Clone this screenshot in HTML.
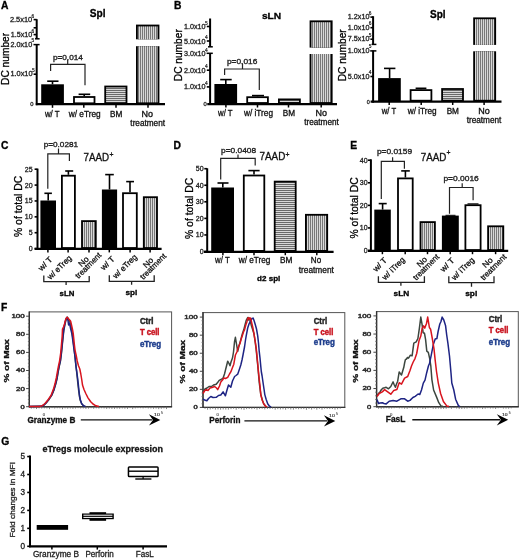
<!DOCTYPE html>
<html><head><meta charset="utf-8"><title>Figure</title>
<style>html,body{margin:0;padding:0;background:#fff;width:520px;height:560px;overflow:hidden}svg{display:block;font-family:"Liberation Sans",sans-serif;filter:blur(0.35px)}</style>
</head><body>
<svg width="520" height="560" viewBox="0 0 520 560" font-family="Liberation Sans, sans-serif">
<defs><pattern id="ph" width="4" height="2" patternUnits="userSpaceOnUse"><rect width="4" height="2" fill="#d8d8d8"/><rect width="4" height="1" fill="#6a6a6a"/></pattern><pattern id="pv" width="2" height="4" patternUnits="userSpaceOnUse"><rect width="2" height="4" fill="#d8d8d8"/><rect width="1" height="4" fill="#787878"/></pattern></defs>
<rect width="520" height="560" fill="#fff"/>
<text x="1" y="8.8" font-size="10.3" font-weight="bold" stroke="#000" stroke-width="0.3">A</text>
<text x="174" y="9" font-size="10.3" font-weight="bold" stroke="#000" stroke-width="0.3">B</text>
<text x="1" y="149" font-size="10.3" font-weight="bold" stroke="#000" stroke-width="0.3">C</text>
<text x="173.6" y="149" font-size="10.3" font-weight="bold" stroke="#000" stroke-width="0.3">D</text>
<text x="350.2" y="149" font-size="10.3" font-weight="bold" stroke="#000" stroke-width="0.3">E</text>
<text x="1" y="310.6" font-size="10.3" font-weight="bold" stroke="#000" stroke-width="0.3">F</text>
<text x="1.2" y="444.8" font-size="10.3" font-weight="bold" stroke="#000" stroke-width="0.3">G</text>
<text x="89.8" y="16.7" font-size="10.2" font-weight="bold" textLength="15.8" lengthAdjust="spacingAndGlyphs" stroke="#000" stroke-width="0.3">Spl</text>
<text transform="translate(9,84.9) rotate(-90)" font-size="10.2" textLength="52" lengthAdjust="spacingAndGlyphs" stroke="#000" stroke-width="0.3">DC number</text>
<line x1="36.7" y1="19.2" x2="36.7" y2="38.8" stroke="#000" stroke-width="2"/>
<line x1="36.7" y1="44.3" x2="36.7" y2="105.2" stroke="#000" stroke-width="2"/>
<line x1="33.6" y1="19.6" x2="36.7" y2="19.6" stroke="#000" stroke-width="1.6"/>
<line x1="33.6" y1="27.8" x2="36.7" y2="27.8" stroke="#000" stroke-width="1.6"/>
<line x1="33.6" y1="34.6" x2="36.7" y2="34.6" stroke="#000" stroke-width="1.6"/>
<line x1="33.6" y1="74.2" x2="36.7" y2="74.2" stroke="#000" stroke-width="1.6"/>
<line x1="35" y1="38.8" x2="39.6" y2="38.8" stroke="#000" stroke-width="1.5"/>
<line x1="33.5" y1="44.6" x2="39.6" y2="44.6" stroke="#000" stroke-width="1.5"/>
<text x="32.2" y="22.2" font-size="7" text-anchor="end" fill="#222" textLength="22.3" lengthAdjust="spacingAndGlyphs" stroke="#222" stroke-width="0.3">2.5x10</text>
<text x="31.6" y="17.8" font-size="4.8" fill="#222" stroke="#222" stroke-width="0.2">6</text>
<text x="32.2" y="37.3" font-size="7" text-anchor="end" fill="#222" textLength="21.5" lengthAdjust="spacingAndGlyphs" stroke="#222" stroke-width="0.3">1.5x10</text>
<text x="31.6" y="32.9" font-size="4.8" fill="#222" stroke="#222" stroke-width="0.2">6</text>
<text x="32.2" y="46.5" font-size="7" text-anchor="end" fill="#222" textLength="21.8" lengthAdjust="spacingAndGlyphs" stroke="#222" stroke-width="0.3">2.0x10</text>
<text x="31.6" y="42.1" font-size="4.8" fill="#222" stroke="#222" stroke-width="0.2">5</text>
<text x="32.6" y="76.4" font-size="7" text-anchor="end" fill="#222" textLength="22.2" lengthAdjust="spacingAndGlyphs" stroke="#222" stroke-width="0.3">1.0x10</text>
<text x="32" y="72" font-size="4.8" fill="#222" stroke="#222" stroke-width="0.2">5</text>
<text x="33.6" y="106.3" font-size="5.8" text-anchor="end" fill="#222" stroke="#222" stroke-width="0.3">0</text>
<line x1="35.8" y1="104.2" x2="165" y2="104.2" stroke="#000" stroke-width="2.3"/>
<rect x="41.2" y="84.3" width="22.7" height="19.9" fill="#000"/>
<line x1="52.5" y1="81.2" x2="52.5" y2="84.3" stroke="#000" stroke-width="1.6"/>
<line x1="47.2" y1="81.2" x2="58.5" y2="81.2" stroke="#000" stroke-width="1.6"/>
<rect x="73.1" y="96.1" width="22.3" height="8.1" fill="#000"/>
<rect x="74.9" y="97.9" width="18.7" height="4.5" fill="#fff"/>
<line x1="84.2" y1="94.3" x2="84.2" y2="96.1" stroke="#000" stroke-width="1.6"/>
<line x1="78.6" y1="94.3" x2="90.2" y2="94.3" stroke="#000" stroke-width="1.6"/>
<rect x="104.3" y="85.6" width="23.1" height="18.6" fill="#000"/>
<rect x="106.1" y="87.4" width="19.5" height="15" fill="url(#ph)"/>
<rect x="136" y="24.6" width="23.4" height="14.7" fill="#000"/>
<rect x="137.8" y="26.4" width="19.8" height="12.9" fill="url(#pv)"/>
<rect x="136" y="46.2" width="23.4" height="58" fill="#000"/>
<rect x="137.8" y="46.2" width="19.8" height="56.2" fill="url(#pv)"/>
<line x1="52.5" y1="104.2" x2="52.5" y2="107.8" stroke="#000" stroke-width="1.5"/>
<line x1="83.8" y1="104.2" x2="83.8" y2="107.8" stroke="#000" stroke-width="1.5"/>
<line x1="116" y1="104.2" x2="116" y2="107.8" stroke="#000" stroke-width="1.5"/>
<line x1="148" y1="104.2" x2="148" y2="107.8" stroke="#000" stroke-width="1.5"/>
<path d="M50.6 71.1V64.4H85V85.2M67.7 64.4V59.8" fill="none" stroke="#222" stroke-width="1.2"/>
<text x="52.9" y="59.8" font-size="6.8" fill="#222" textLength="30" lengthAdjust="spacingAndGlyphs" stroke="#222" stroke-width="0.3">p=0.014</text>
<text x="52.3" y="116.6" font-size="8.2" text-anchor="middle" fill="#111" textLength="14.7" lengthAdjust="spacingAndGlyphs" stroke="#111" stroke-width="0.3">w/ T</text>
<text x="84.7" y="116.6" font-size="8.2" text-anchor="middle" fill="#111" textLength="31.9" lengthAdjust="spacingAndGlyphs" stroke="#111" stroke-width="0.3">w/ eTreg</text>
<text x="116.2" y="116.6" font-size="8.2" text-anchor="middle" fill="#111" textLength="12.3" lengthAdjust="spacingAndGlyphs" stroke="#111" stroke-width="0.3">BM</text>
<text x="147.3" y="116.6" font-size="8.2" text-anchor="middle" fill="#111" textLength="11.5" lengthAdjust="spacingAndGlyphs" stroke="#111" stroke-width="0.3">No</text>
<text x="147.7" y="126.4" font-size="8.2" text-anchor="middle" fill="#111" textLength="34.7" lengthAdjust="spacingAndGlyphs" stroke="#111" stroke-width="0.3">treatment</text>
<text x="261.9" y="18.8" font-size="9.9" font-weight="bold" textLength="19.3" lengthAdjust="spacingAndGlyphs" stroke="#000" stroke-width="0.3">sLN</text>
<text transform="translate(182,81.2) rotate(-90)" font-size="10.2" textLength="52" lengthAdjust="spacingAndGlyphs" stroke="#000" stroke-width="0.3">DC number</text>
<line x1="210.1" y1="18.5" x2="210.1" y2="46.8" stroke="#000" stroke-width="2"/>
<line x1="210.1" y1="53" x2="210.1" y2="104.8" stroke="#000" stroke-width="2"/>
<line x1="206.8" y1="26.5" x2="210.1" y2="26.5" stroke="#000" stroke-width="1.6"/>
<line x1="206.8" y1="41" x2="210.1" y2="41" stroke="#000" stroke-width="1.6"/>
<line x1="206.8" y1="70.2" x2="210.1" y2="70.2" stroke="#000" stroke-width="1.6"/>
<line x1="206.8" y1="86.9" x2="210.1" y2="86.9" stroke="#000" stroke-width="1.6"/>
<line x1="208" y1="46.8" x2="212.8" y2="46.8" stroke="#000" stroke-width="1.5"/>
<line x1="206.6" y1="53.3" x2="212.8" y2="53.3" stroke="#000" stroke-width="1.5"/>
<text x="205.6" y="29" font-size="7" text-anchor="end" fill="#222" textLength="21.6" lengthAdjust="spacingAndGlyphs" stroke="#222" stroke-width="0.3">1.0x10</text>
<text x="205" y="24.6" font-size="4.8" fill="#222" stroke="#222" stroke-width="0.2">5</text>
<text x="205.6" y="43.6" font-size="7" text-anchor="end" fill="#222" textLength="21.6" lengthAdjust="spacingAndGlyphs" stroke="#222" stroke-width="0.3">5.0x10</text>
<text x="205" y="39.2" font-size="4.8" fill="#222" stroke="#222" stroke-width="0.2">4</text>
<text x="205.6" y="56" font-size="7" text-anchor="end" fill="#222" textLength="21.6" lengthAdjust="spacingAndGlyphs" stroke="#222" stroke-width="0.3">3.0x10</text>
<text x="205" y="51.6" font-size="4.8" fill="#222" stroke="#222" stroke-width="0.2">4</text>
<text x="205.6" y="72.7" font-size="7" text-anchor="end" fill="#222" textLength="21.6" lengthAdjust="spacingAndGlyphs" stroke="#222" stroke-width="0.3">2.0x10</text>
<text x="205" y="68.3" font-size="4.8" fill="#222" stroke="#222" stroke-width="0.2">4</text>
<text x="205.6" y="89.4" font-size="7" text-anchor="end" fill="#222" textLength="21.6" lengthAdjust="spacingAndGlyphs" stroke="#222" stroke-width="0.3">1.0x10</text>
<text x="205" y="85" font-size="4.8" fill="#222" stroke="#222" stroke-width="0.2">4</text>
<text x="206.7" y="106.3" font-size="5.8" text-anchor="end" fill="#222" stroke="#222" stroke-width="0.3">0</text>
<line x1="207.3" y1="104.1" x2="337" y2="104.1" stroke="#000" stroke-width="2.3"/>
<rect x="214.4" y="84" width="22.7" height="19.9" fill="#000"/>
<line x1="225.8" y1="79.6" x2="225.8" y2="84" stroke="#000" stroke-width="1.6"/>
<line x1="220.2" y1="79.6" x2="231.7" y2="79.6" stroke="#000" stroke-width="1.6"/>
<rect x="246.3" y="96.3" width="22.5" height="7.6" fill="#000"/>
<rect x="248.1" y="98.1" width="18.9" height="4" fill="#fff"/>
<line x1="257.6" y1="95.6" x2="257.6" y2="96.3" stroke="#000" stroke-width="1.6"/>
<line x1="252" y1="95.6" x2="264" y2="95.6" stroke="#000" stroke-width="1.6"/>
<rect x="278" y="98.5" width="22.8" height="5.4" fill="#000"/>
<rect x="279.8" y="100.3" width="19.2" height="1.8" fill="url(#ph)"/>
<rect x="309.6" y="20.4" width="23" height="27.2" fill="#000"/>
<rect x="311.4" y="22.2" width="19.4" height="25.4" fill="url(#pv)"/>
<rect x="309.6" y="54" width="23" height="49.9" fill="#000"/>
<rect x="311.4" y="54" width="19.4" height="48.1" fill="url(#pv)"/>
<line x1="225.9" y1="103.9" x2="225.9" y2="107.5" stroke="#000" stroke-width="1.5"/>
<line x1="257.5" y1="103.9" x2="257.5" y2="107.5" stroke="#000" stroke-width="1.5"/>
<line x1="288.5" y1="103.9" x2="288.5" y2="107.5" stroke="#000" stroke-width="1.5"/>
<line x1="321.2" y1="103.9" x2="321.2" y2="107.5" stroke="#000" stroke-width="1.5"/>
<path d="M224.6 75.1V69H259.3V90.1M242.5 69V63.6" fill="none" stroke="#222" stroke-width="1.2"/>
<text x="227" y="63.6" font-size="6.8" fill="#222" textLength="30.3" lengthAdjust="spacingAndGlyphs" stroke="#222" stroke-width="0.3">p=0.016</text>
<text x="225.3" y="115.5" font-size="8.2" text-anchor="middle" fill="#111" textLength="14.6" lengthAdjust="spacingAndGlyphs" stroke="#111" stroke-width="0.3">w/ T</text>
<text x="258.5" y="115.5" font-size="8.2" text-anchor="middle" fill="#111" textLength="29" lengthAdjust="spacingAndGlyphs" stroke="#111" stroke-width="0.3">w/ iTreg</text>
<text x="289" y="115.5" font-size="8.2" text-anchor="middle" fill="#111" textLength="12.3" lengthAdjust="spacingAndGlyphs" stroke="#111" stroke-width="0.3">BM</text>
<text x="321.2" y="115.5" font-size="8.2" text-anchor="middle" fill="#111" textLength="11.5" lengthAdjust="spacingAndGlyphs" stroke="#111" stroke-width="0.3">No</text>
<text x="321.5" y="125.4" font-size="8.2" text-anchor="middle" fill="#111" textLength="34.7" lengthAdjust="spacingAndGlyphs" stroke="#111" stroke-width="0.3">treatment</text>
<text x="430" y="18" font-size="10.2" font-weight="bold" textLength="15.6" lengthAdjust="spacingAndGlyphs" stroke="#000" stroke-width="0.3">Spl</text>
<text transform="translate(345.8,81.3) rotate(-90)" font-size="10.2" textLength="52" lengthAdjust="spacingAndGlyphs" stroke="#000" stroke-width="0.3">DC number</text>
<line x1="373.1" y1="16.2" x2="373.1" y2="44.4" stroke="#000" stroke-width="2"/>
<line x1="373.1" y1="50.6" x2="373.1" y2="102.7" stroke="#000" stroke-width="2"/>
<line x1="370.4" y1="17.1" x2="373.1" y2="17.1" stroke="#000" stroke-width="1.6"/>
<line x1="370.4" y1="27.7" x2="373.1" y2="27.7" stroke="#000" stroke-width="1.6"/>
<line x1="370.4" y1="39.2" x2="373.1" y2="39.2" stroke="#000" stroke-width="1.6"/>
<line x1="370.4" y1="76.5" x2="373.1" y2="76.5" stroke="#000" stroke-width="1.6"/>
<line x1="371.6" y1="44.4" x2="376.4" y2="44.4" stroke="#000" stroke-width="1.5"/>
<line x1="370.2" y1="50.9" x2="376.4" y2="50.9" stroke="#000" stroke-width="1.5"/>
<text x="369.4" y="19.1" font-size="7" text-anchor="end" fill="#222" textLength="21.6" lengthAdjust="spacingAndGlyphs" stroke="#222" stroke-width="0.3">1.2x10</text>
<text x="368.8" y="14.7" font-size="4.8" fill="#222" stroke="#222" stroke-width="0.2">6</text>
<text x="369.4" y="29.8" font-size="7" text-anchor="end" fill="#222" textLength="21.6" lengthAdjust="spacingAndGlyphs" stroke="#222" stroke-width="0.3">1.0x10</text>
<text x="368.8" y="25.4" font-size="4.8" fill="#222" stroke="#222" stroke-width="0.2">6</text>
<text x="369.4" y="41.1" font-size="7" text-anchor="end" fill="#222" textLength="21.6" lengthAdjust="spacingAndGlyphs" stroke="#222" stroke-width="0.3">7.5x10</text>
<text x="368.8" y="36.7" font-size="4.8" fill="#222" stroke="#222" stroke-width="0.2">5</text>
<text x="369.4" y="52.7" font-size="7" text-anchor="end" fill="#222" textLength="21.6" lengthAdjust="spacingAndGlyphs" stroke="#222" stroke-width="0.3">1.0x10</text>
<text x="368.8" y="48.3" font-size="4.8" fill="#222" stroke="#222" stroke-width="0.2">5</text>
<text x="369.4" y="78.7" font-size="7" text-anchor="end" fill="#222" textLength="21.6" lengthAdjust="spacingAndGlyphs" stroke="#222" stroke-width="0.3">5.0x10</text>
<text x="368.8" y="74.3" font-size="4.8" fill="#222" stroke="#222" stroke-width="0.2">4</text>
<text x="369.8" y="104.4" font-size="5.4" text-anchor="end" fill="#222" stroke="#222" stroke-width="0.3">0</text>
<line x1="370.6" y1="101.6" x2="501.5" y2="101.6" stroke="#000" stroke-width="2.3"/>
<rect x="378.1" y="78.1" width="22.7" height="23.5" fill="#000"/>
<line x1="389.6" y1="68.4" x2="389.6" y2="78.1" stroke="#000" stroke-width="1.6"/>
<line x1="384" y1="68.4" x2="395.4" y2="68.4" stroke="#000" stroke-width="1.6"/>
<rect x="409.7" y="89.2" width="22.6" height="12.4" fill="#000"/>
<rect x="411.5" y="91" width="19" height="8.8" fill="#fff"/>
<line x1="421" y1="88.3" x2="421" y2="89.2" stroke="#000" stroke-width="1.6"/>
<line x1="415.6" y1="88.3" x2="426.4" y2="88.3" stroke="#000" stroke-width="1.6"/>
<rect x="441.2" y="88.1" width="22.7" height="13.5" fill="#000"/>
<rect x="443" y="89.9" width="19.1" height="9.9" fill="url(#ph)"/>
<rect x="473.2" y="17.4" width="22.9" height="27.5" fill="#000"/>
<rect x="475" y="19.2" width="19.3" height="25.7" fill="url(#pv)"/>
<rect x="473.2" y="51.3" width="22.9" height="50.3" fill="#000"/>
<rect x="475" y="51.3" width="19.3" height="48.5" fill="url(#pv)"/>
<line x1="389.2" y1="101.6" x2="389.2" y2="105" stroke="#000" stroke-width="1.5"/>
<line x1="421.2" y1="101.6" x2="421.2" y2="105" stroke="#000" stroke-width="1.5"/>
<line x1="452.7" y1="101.6" x2="452.7" y2="105" stroke="#000" stroke-width="1.5"/>
<line x1="484.1" y1="101.6" x2="484.1" y2="105" stroke="#000" stroke-width="1.5"/>
<text x="389" y="113.5" font-size="8.2" text-anchor="middle" fill="#111" textLength="14.4" lengthAdjust="spacingAndGlyphs" stroke="#111" stroke-width="0.3">w/ T</text>
<text x="422.2" y="113.5" font-size="8.2" text-anchor="middle" fill="#111" textLength="28.9" lengthAdjust="spacingAndGlyphs" stroke="#111" stroke-width="0.3">w/ iTreg</text>
<text x="452.8" y="113.5" font-size="8.2" text-anchor="middle" fill="#111" textLength="12.3" lengthAdjust="spacingAndGlyphs" stroke="#111" stroke-width="0.3">BM</text>
<text x="484" y="113.5" font-size="8.2" text-anchor="middle" fill="#111" textLength="11.5" lengthAdjust="spacingAndGlyphs" stroke="#111" stroke-width="0.3">No</text>
<text x="484" y="123" font-size="8.2" text-anchor="middle" fill="#111" textLength="34.7" lengthAdjust="spacingAndGlyphs" stroke="#111" stroke-width="0.3">treatment</text>
<text transform="translate(21.8,237) rotate(-90)" font-size="10.4" textLength="61.2" lengthAdjust="spacingAndGlyphs" stroke="#000" stroke-width="0.3">% of total DC</text>
<line x1="37.5" y1="168.6" x2="37.5" y2="249.6" stroke="#000" stroke-width="2"/>
<line x1="34.6" y1="248.6" x2="37.5" y2="248.6" stroke="#000" stroke-width="1.6"/>
<text x="32.6" y="251.1" font-size="7" text-anchor="end" fill="#222" stroke="#222" stroke-width="0.3">0</text>
<line x1="34.6" y1="232.72" x2="37.5" y2="232.72" stroke="#000" stroke-width="1.6"/>
<text x="32.6" y="235.22" font-size="7" text-anchor="end" fill="#222" stroke="#222" stroke-width="0.3">5</text>
<line x1="34.6" y1="216.84" x2="37.5" y2="216.84" stroke="#000" stroke-width="1.6"/>
<text x="32.6" y="219.34" font-size="7" text-anchor="end" fill="#222" stroke="#222" stroke-width="0.3">10</text>
<line x1="34.6" y1="200.96" x2="37.5" y2="200.96" stroke="#000" stroke-width="1.6"/>
<text x="32.6" y="203.46" font-size="7" text-anchor="end" fill="#222" stroke="#222" stroke-width="0.3">15</text>
<line x1="34.6" y1="185.08" x2="37.5" y2="185.08" stroke="#000" stroke-width="1.6"/>
<text x="32.6" y="187.58" font-size="7" text-anchor="end" fill="#222" stroke="#222" stroke-width="0.3">20</text>
<line x1="34.6" y1="169.2" x2="37.5" y2="169.2" stroke="#000" stroke-width="1.6"/>
<text x="32.6" y="171.7" font-size="7" text-anchor="end" fill="#222" stroke="#222" stroke-width="0.3">25</text>
<line x1="34.6" y1="248.9" x2="161.6" y2="248.9" stroke="#000" stroke-width="2.3"/>
<rect x="40.4" y="200.5" width="15.6" height="48.4" fill="#000"/>
<line x1="48.2" y1="193.3" x2="48.2" y2="200.5" stroke="#000" stroke-width="1.6"/>
<line x1="44.4" y1="193.3" x2="51.9" y2="193.3" stroke="#000" stroke-width="1.6"/>
<rect x="61" y="174.8" width="14.8" height="74.1" fill="#000"/>
<rect x="62.8" y="176.6" width="11.2" height="70.5" fill="#fff"/>
<line x1="68.4" y1="171" x2="68.4" y2="174.8" stroke="#000" stroke-width="1.6"/>
<line x1="65.2" y1="171" x2="73.2" y2="171" stroke="#000" stroke-width="1.6"/>
<rect x="81.1" y="220.2" width="15.6" height="28.7" fill="#000"/>
<rect x="82.9" y="222" width="12" height="25.1" fill="url(#pv)"/>
<rect x="101.9" y="189.5" width="15.2" height="59.4" fill="#000"/>
<line x1="109.5" y1="174.6" x2="109.5" y2="189.5" stroke="#000" stroke-width="1.6"/>
<line x1="105.2" y1="174.6" x2="113.8" y2="174.6" stroke="#000" stroke-width="1.6"/>
<rect x="122.1" y="192.3" width="15.6" height="56.6" fill="#000"/>
<rect x="123.9" y="194.1" width="12" height="53" fill="#fff"/>
<line x1="130" y1="181.6" x2="130" y2="192.3" stroke="#000" stroke-width="1.6"/>
<line x1="126.2" y1="181.6" x2="134" y2="181.6" stroke="#000" stroke-width="1.6"/>
<rect x="142.9" y="196.3" width="15" height="52.6" fill="#000"/>
<rect x="144.7" y="198.1" width="11.4" height="49" fill="url(#pv)"/>
<line x1="47.9" y1="248.9" x2="47.9" y2="252.4" stroke="#000" stroke-width="1.5"/>
<line x1="68.1" y1="248.9" x2="68.1" y2="252.4" stroke="#000" stroke-width="1.5"/>
<line x1="89" y1="248.9" x2="89" y2="252.4" stroke="#000" stroke-width="1.5"/>
<line x1="109.3" y1="248.9" x2="109.3" y2="252.4" stroke="#000" stroke-width="1.5"/>
<line x1="130.1" y1="248.9" x2="130.1" y2="252.4" stroke="#000" stroke-width="1.5"/>
<line x1="150.1" y1="248.9" x2="150.1" y2="252.4" stroke="#000" stroke-width="1.5"/>
<path d="M47.8 188.7V153.9H69.4V160.9M58.5 153.9V148.5" fill="none" stroke="#222" stroke-width="1.2"/>
<text x="43.7" y="147.3" font-size="6.8" fill="#222" textLength="34.4" lengthAdjust="spacingAndGlyphs" stroke="#222" stroke-width="0.3">p=0.0281</text>
<text x="83.6" y="160.8" font-size="10" fill="#111" textLength="25.6" lengthAdjust="spacingAndGlyphs" stroke="#111" stroke-width="0.3">7AAD</text>
<text x="109.4" y="157.4" font-size="6.8" fill="#111" stroke="#111" stroke-width="0.3">+</text>
<text transform="translate(41.51,271.46) rotate(-45)" font-size="8.1" fill="#111" textLength="16" lengthAdjust="spacingAndGlyphs" stroke="#111" stroke-width="0.3">w/ T</text>
<text transform="translate(50.61,280.11) rotate(-45)" font-size="8.1" fill="#111" textLength="30.5" lengthAdjust="spacingAndGlyphs" stroke="#111" stroke-width="0.3">w/ eTreg</text>
<text transform="translate(81.55,267.34) rotate(-45)" font-size="8.1" fill="#111" textLength="11" lengthAdjust="spacingAndGlyphs" stroke="#111" stroke-width="0.3">No</text>
<text transform="translate(78.55,279.12) rotate(-45)" font-size="8.1" fill="#111" textLength="33" lengthAdjust="spacingAndGlyphs" stroke="#111" stroke-width="0.3">treatment</text>
<text transform="translate(103.81,270.76) rotate(-45)" font-size="8.1" fill="#111" textLength="16" lengthAdjust="spacingAndGlyphs" stroke="#111" stroke-width="0.3">w/ T</text>
<text transform="translate(116.01,279.11) rotate(-45)" font-size="8.1" fill="#111" textLength="30.5" lengthAdjust="spacingAndGlyphs" stroke="#111" stroke-width="0.3">w/ eTreg</text>
<text transform="translate(146.15,268.44) rotate(-45)" font-size="8.1" fill="#111" textLength="11" lengthAdjust="spacingAndGlyphs" stroke="#111" stroke-width="0.3">No</text>
<text transform="translate(143.35,280.02) rotate(-45)" font-size="8.1" fill="#111" textLength="33" lengthAdjust="spacingAndGlyphs" stroke="#111" stroke-width="0.3">treatment</text>
<path d="M43.8 275.5V281.7H89.2V275.9M66.1 281.7V285.1" fill="none" stroke="#222" stroke-width="1.3"/>
<path d="M109.3 275.2V281.4H154.2V275.2M131.6 281.4V284.7" fill="none" stroke="#222" stroke-width="1.3"/>
<text x="59.6" y="295.5" font-size="7.9" font-weight="bold" textLength="14.8" lengthAdjust="spacingAndGlyphs" stroke="#000" stroke-width="0.3">sLN</text>
<text x="125.5" y="294.6" font-size="7.9" font-weight="bold" textLength="11.8" lengthAdjust="spacingAndGlyphs" stroke="#000" stroke-width="0.3">spl</text>
<text transform="translate(193,239) rotate(-90)" font-size="10.4" textLength="61.2" lengthAdjust="spacingAndGlyphs" stroke="#000" stroke-width="0.3">% of total DC</text>
<line x1="207.2" y1="168.3" x2="207.2" y2="252.6" stroke="#000" stroke-width="2"/>
<line x1="204.3" y1="251.5" x2="207.2" y2="251.5" stroke="#000" stroke-width="1.6"/>
<text x="203.6" y="254" font-size="7" text-anchor="end" fill="#222" stroke="#222" stroke-width="0.3">0</text>
<line x1="204.3" y1="234.94" x2="207.2" y2="234.94" stroke="#000" stroke-width="1.6"/>
<text x="203.6" y="237.44" font-size="7" text-anchor="end" fill="#222" stroke="#222" stroke-width="0.3">10</text>
<line x1="204.3" y1="218.38" x2="207.2" y2="218.38" stroke="#000" stroke-width="1.6"/>
<text x="203.6" y="220.88" font-size="7" text-anchor="end" fill="#222" stroke="#222" stroke-width="0.3">20</text>
<line x1="204.3" y1="201.82" x2="207.2" y2="201.82" stroke="#000" stroke-width="1.6"/>
<text x="203.6" y="204.32" font-size="7" text-anchor="end" fill="#222" stroke="#222" stroke-width="0.3">30</text>
<line x1="204.3" y1="185.26" x2="207.2" y2="185.26" stroke="#000" stroke-width="1.6"/>
<text x="203.6" y="187.76" font-size="7" text-anchor="end" fill="#222" stroke="#222" stroke-width="0.3">40</text>
<line x1="204.3" y1="168.7" x2="207.2" y2="168.7" stroke="#000" stroke-width="1.6"/>
<text x="203.6" y="171.2" font-size="7" text-anchor="end" fill="#222" stroke="#222" stroke-width="0.3">50</text>
<line x1="204" y1="251.8" x2="333.6" y2="251.8" stroke="#000" stroke-width="2.3"/>
<rect x="211.2" y="187.5" width="22.8" height="64.3" fill="#000"/>
<line x1="222.8" y1="183" x2="222.8" y2="187.5" stroke="#000" stroke-width="1.6"/>
<line x1="217.5" y1="183" x2="228.5" y2="183" stroke="#000" stroke-width="1.6"/>
<rect x="242.9" y="174.6" width="22.3" height="77.2" fill="#000"/>
<rect x="244.7" y="176.4" width="18.7" height="73.6" fill="#fff"/>
<line x1="254" y1="170.6" x2="254" y2="174.6" stroke="#000" stroke-width="1.6"/>
<line x1="248.4" y1="170.6" x2="259.6" y2="170.6" stroke="#000" stroke-width="1.6"/>
<rect x="273.8" y="180.7" width="22.8" height="71.1" fill="#000"/>
<rect x="275.6" y="182.5" width="19.2" height="67.5" fill="url(#ph)"/>
<rect x="305" y="213.9" width="23.1" height="37.9" fill="#000"/>
<rect x="306.8" y="215.7" width="19.5" height="34.3" fill="url(#pv)"/>
<line x1="222.9" y1="251.8" x2="222.9" y2="255.2" stroke="#000" stroke-width="1.5"/>
<line x1="254" y1="251.8" x2="254" y2="255.2" stroke="#000" stroke-width="1.5"/>
<line x1="285.3" y1="251.8" x2="285.3" y2="255.2" stroke="#000" stroke-width="1.5"/>
<line x1="316.8" y1="251.8" x2="316.8" y2="255.2" stroke="#000" stroke-width="1.5"/>
<path d="M220.7 179.5V158.4H255.2V165.6M238 158.4V154.4" fill="none" stroke="#222" stroke-width="1.2"/>
<text x="221" y="152.5" font-size="6.8" fill="#222" textLength="35.1" lengthAdjust="spacingAndGlyphs" stroke="#222" stroke-width="0.3">p=0.0408</text>
<text x="259.5" y="160.4" font-size="10" fill="#111" textLength="25.8" lengthAdjust="spacingAndGlyphs" stroke="#111" stroke-width="0.3">7AAD</text>
<text x="285.6" y="157.2" font-size="6.8" fill="#111" stroke="#111" stroke-width="0.3">+</text>
<text x="222.4" y="262.9" font-size="8.2" text-anchor="middle" fill="#111" textLength="14.6" lengthAdjust="spacingAndGlyphs" stroke="#111" stroke-width="0.3">w/ T</text>
<text x="254.6" y="262.9" font-size="8.2" text-anchor="middle" fill="#111" textLength="31.6" lengthAdjust="spacingAndGlyphs" stroke="#111" stroke-width="0.3">w/ eTreg</text>
<text x="286.2" y="262.9" font-size="8.2" text-anchor="middle" fill="#111" textLength="12.4" lengthAdjust="spacingAndGlyphs" stroke="#111" stroke-width="0.3">BM</text>
<text x="316" y="262.9" font-size="8.2" text-anchor="middle" fill="#111" textLength="10.3" lengthAdjust="spacingAndGlyphs" stroke="#111" stroke-width="0.3">No</text>
<text x="316.3" y="272.6" font-size="8.2" text-anchor="middle" fill="#111" textLength="35.2" lengthAdjust="spacingAndGlyphs" stroke="#111" stroke-width="0.3">treatment</text>
<text x="257.1" y="280.7" font-size="7.9" font-weight="bold" textLength="23.2" lengthAdjust="spacingAndGlyphs" stroke="#000" stroke-width="0.3">d2 spl</text>
<text transform="translate(358.4,238.5) rotate(-90)" font-size="10.4" textLength="61.2" lengthAdjust="spacingAndGlyphs" stroke="#000" stroke-width="0.3">% of total DC</text>
<line x1="370.9" y1="159.3" x2="370.9" y2="251.6" stroke="#000" stroke-width="2"/>
<line x1="368" y1="250.5" x2="370.9" y2="250.5" stroke="#000" stroke-width="1.6"/>
<text x="367.6" y="253" font-size="7" text-anchor="end" fill="#222" stroke="#222" stroke-width="0.3">0</text>
<line x1="368" y1="227.93" x2="370.9" y2="227.93" stroke="#000" stroke-width="1.6"/>
<text x="367.6" y="230.43" font-size="7" text-anchor="end" fill="#222" stroke="#222" stroke-width="0.3">10</text>
<line x1="368" y1="205.35" x2="370.9" y2="205.35" stroke="#000" stroke-width="1.6"/>
<text x="367.6" y="207.85" font-size="7" text-anchor="end" fill="#222" stroke="#222" stroke-width="0.3">20</text>
<line x1="368" y1="182.78" x2="370.9" y2="182.78" stroke="#000" stroke-width="1.6"/>
<text x="367.6" y="185.28" font-size="7" text-anchor="end" fill="#222" stroke="#222" stroke-width="0.3">30</text>
<line x1="368" y1="160.2" x2="370.9" y2="160.2" stroke="#000" stroke-width="1.6"/>
<text x="367.6" y="162.7" font-size="7" text-anchor="end" fill="#222" stroke="#222" stroke-width="0.3">40</text>
<line x1="368" y1="250.9" x2="508.2" y2="250.9" stroke="#000" stroke-width="2.3"/>
<rect x="374.3" y="209.6" width="16.5" height="41.3" fill="#000"/>
<line x1="382.6" y1="203.6" x2="382.6" y2="209.6" stroke="#000" stroke-width="1.6"/>
<line x1="378.7" y1="203.6" x2="386.7" y2="203.6" stroke="#000" stroke-width="1.6"/>
<rect x="397.1" y="177.5" width="16.5" height="73.4" fill="#000"/>
<rect x="398.9" y="179.3" width="12.9" height="69.8" fill="#fff"/>
<line x1="405.4" y1="170.9" x2="405.4" y2="177.5" stroke="#000" stroke-width="1.6"/>
<line x1="401.2" y1="170.9" x2="409.8" y2="170.9" stroke="#000" stroke-width="1.6"/>
<rect x="419.6" y="221.2" width="16.2" height="29.7" fill="#000"/>
<rect x="421.4" y="223" width="12.6" height="26.1" fill="url(#pv)"/>
<rect x="441.9" y="215.6" width="16.9" height="35.3" fill="#000"/>
<rect x="464.5" y="204.3" width="17" height="46.6" fill="#000"/>
<rect x="466.3" y="206.1" width="13.4" height="43" fill="#fff"/>
<line x1="467.5" y1="203.9" x2="478.5" y2="203.9" stroke="#000" stroke-width="1.2"/>
<line x1="445.5" y1="215.3" x2="455.5" y2="215.3" stroke="#000" stroke-width="1"/>
<rect x="487.2" y="225.4" width="17" height="25.5" fill="#000"/>
<rect x="489" y="227.2" width="13.4" height="21.9" fill="url(#pv)"/>
<line x1="382.4" y1="250.9" x2="382.4" y2="254.2" stroke="#000" stroke-width="1.5"/>
<line x1="405.2" y1="250.9" x2="405.2" y2="254.2" stroke="#000" stroke-width="1.5"/>
<line x1="427.5" y1="250.9" x2="427.5" y2="254.2" stroke="#000" stroke-width="1.5"/>
<line x1="450.2" y1="250.9" x2="450.2" y2="254.2" stroke="#000" stroke-width="1.5"/>
<line x1="472.5" y1="250.9" x2="472.5" y2="254.2" stroke="#000" stroke-width="1.5"/>
<line x1="495.6" y1="250.9" x2="495.6" y2="254.2" stroke="#000" stroke-width="1.5"/>
<path d="M381.3 199V161.3H404.4V168.8M392.6 161.3V157.3" fill="none" stroke="#222" stroke-width="1.2"/>
<text x="376.9" y="153.6" font-size="6.8" fill="#222" textLength="35.2" lengthAdjust="spacingAndGlyphs" stroke="#222" stroke-width="0.3">p=0.0159</text>
<text x="420.8" y="161" font-size="10" fill="#111" textLength="25.6" lengthAdjust="spacingAndGlyphs" stroke="#111" stroke-width="0.3">7AAD</text>
<text x="446.4" y="154.6" font-size="6.8" fill="#111" stroke="#111" stroke-width="0.3">+</text>
<path d="M449.5 213.8V187.5H473.1V200.3M462.2 187.5V183.2" fill="none" stroke="#222" stroke-width="1.2"/>
<text x="443.4" y="181.3" font-size="6.8" fill="#222" textLength="35.4" lengthAdjust="spacingAndGlyphs" stroke="#222" stroke-width="0.3">p=0.0016</text>
<text transform="translate(376.21,272.16) rotate(-45)" font-size="8.1" fill="#111" textLength="16" lengthAdjust="spacingAndGlyphs" stroke="#111" stroke-width="0.3">w/ T</text>
<text transform="translate(385.31,280.41) rotate(-45)" font-size="8.1" fill="#111" textLength="28.5" lengthAdjust="spacingAndGlyphs" stroke="#111" stroke-width="0.3">w/ iTreg</text>
<text transform="translate(419.95,267.64) rotate(-45)" font-size="8.1" fill="#111" textLength="11" lengthAdjust="spacingAndGlyphs" stroke="#111" stroke-width="0.3">No</text>
<text transform="translate(416.35,280.72) rotate(-45)" font-size="8.1" fill="#111" textLength="33" lengthAdjust="spacingAndGlyphs" stroke="#111" stroke-width="0.3">treatment</text>
<text transform="translate(443.61,272.46) rotate(-45)" font-size="8.1" fill="#111" textLength="16" lengthAdjust="spacingAndGlyphs" stroke="#111" stroke-width="0.3">w/ T</text>
<text transform="translate(454.71,280.71) rotate(-45)" font-size="8.1" fill="#111" textLength="28.5" lengthAdjust="spacingAndGlyphs" stroke="#111" stroke-width="0.3">w/ iTreg</text>
<text transform="translate(485.55,268.34) rotate(-45)" font-size="8.1" fill="#111" textLength="11" lengthAdjust="spacingAndGlyphs" stroke="#111" stroke-width="0.3">No</text>
<text transform="translate(483.65,280.82) rotate(-45)" font-size="8.1" fill="#111" textLength="33" lengthAdjust="spacingAndGlyphs" stroke="#111" stroke-width="0.3">treatment</text>
<path d="M378.4 276.3V282.4H424.4V276.3M400.9 282.4V285.8" fill="none" stroke="#222" stroke-width="1.3"/>
<path d="M448.8 276.2V282.6H494V276.2M471.5 282.6V286.7" fill="none" stroke="#222" stroke-width="1.3"/>
<text x="393.6" y="296.2" font-size="7.9" font-weight="bold" textLength="15.6" lengthAdjust="spacingAndGlyphs" stroke="#000" stroke-width="0.3">sLN</text>
<text x="465.2" y="296.3" font-size="7.9" font-weight="bold" textLength="12.1" lengthAdjust="spacingAndGlyphs" stroke="#000" stroke-width="0.3">spl</text>
<rect x="29.3" y="311.9" width="142.3" height="94.8" fill="none" stroke="#555" stroke-width="1"/>
<line x1="29.3" y1="311.4" x2="29.3" y2="407.2" stroke="#333" stroke-width="1.4"/>
<line x1="28.8" y1="406.7" x2="172.1" y2="406.7" stroke="#333" stroke-width="1.4"/>
<line x1="26.1" y1="406.7" x2="29.3" y2="406.7" stroke="#444" stroke-width="1"/>
<text x="24.8" y="408.6" font-size="5.4" text-anchor="end" fill="#333" textLength="4.2" lengthAdjust="spacingAndGlyphs" stroke="#333" stroke-width="0.45">0</text>
<line x1="26.1" y1="388.6" x2="29.3" y2="388.6" stroke="#444" stroke-width="1"/>
<text x="24.8" y="390.5" font-size="5.4" text-anchor="end" fill="#333" textLength="8.8" lengthAdjust="spacingAndGlyphs" stroke="#333" stroke-width="0.45">20</text>
<line x1="26.1" y1="370.5" x2="29.3" y2="370.5" stroke="#444" stroke-width="1"/>
<text x="24.8" y="372.4" font-size="5.4" text-anchor="end" fill="#333" textLength="8.8" lengthAdjust="spacingAndGlyphs" stroke="#333" stroke-width="0.45">40</text>
<line x1="26.1" y1="352.4" x2="29.3" y2="352.4" stroke="#444" stroke-width="1"/>
<text x="24.8" y="354.3" font-size="5.4" text-anchor="end" fill="#333" textLength="8.8" lengthAdjust="spacingAndGlyphs" stroke="#333" stroke-width="0.45">60</text>
<line x1="26.1" y1="334.3" x2="29.3" y2="334.3" stroke="#444" stroke-width="1"/>
<text x="24.8" y="336.2" font-size="5.4" text-anchor="end" fill="#333" textLength="8.8" lengthAdjust="spacingAndGlyphs" stroke="#333" stroke-width="0.45">80</text>
<line x1="26.1" y1="316.2" x2="29.3" y2="316.2" stroke="#444" stroke-width="1"/>
<text x="24.8" y="318.1" font-size="5.4" text-anchor="end" fill="#333" textLength="13.4" lengthAdjust="spacingAndGlyphs" stroke="#333" stroke-width="0.45">100</text>
<line x1="27.9" y1="403.08" x2="29.3" y2="403.08" stroke="#666" stroke-width="0.9"/>
<line x1="27.9" y1="399.46" x2="29.3" y2="399.46" stroke="#666" stroke-width="0.9"/>
<line x1="27.9" y1="395.84" x2="29.3" y2="395.84" stroke="#666" stroke-width="0.9"/>
<line x1="27.9" y1="392.22" x2="29.3" y2="392.22" stroke="#666" stroke-width="0.9"/>
<line x1="27.9" y1="384.98" x2="29.3" y2="384.98" stroke="#666" stroke-width="0.9"/>
<line x1="27.9" y1="381.36" x2="29.3" y2="381.36" stroke="#666" stroke-width="0.9"/>
<line x1="27.9" y1="377.74" x2="29.3" y2="377.74" stroke="#666" stroke-width="0.9"/>
<line x1="27.9" y1="374.12" x2="29.3" y2="374.12" stroke="#666" stroke-width="0.9"/>
<line x1="27.9" y1="366.88" x2="29.3" y2="366.88" stroke="#666" stroke-width="0.9"/>
<line x1="27.9" y1="363.26" x2="29.3" y2="363.26" stroke="#666" stroke-width="0.9"/>
<line x1="27.9" y1="359.64" x2="29.3" y2="359.64" stroke="#666" stroke-width="0.9"/>
<line x1="27.9" y1="356.02" x2="29.3" y2="356.02" stroke="#666" stroke-width="0.9"/>
<line x1="27.9" y1="348.78" x2="29.3" y2="348.78" stroke="#666" stroke-width="0.9"/>
<line x1="27.9" y1="345.16" x2="29.3" y2="345.16" stroke="#666" stroke-width="0.9"/>
<line x1="27.9" y1="341.54" x2="29.3" y2="341.54" stroke="#666" stroke-width="0.9"/>
<line x1="27.9" y1="337.92" x2="29.3" y2="337.92" stroke="#666" stroke-width="0.9"/>
<line x1="27.9" y1="330.68" x2="29.3" y2="330.68" stroke="#666" stroke-width="0.9"/>
<line x1="27.9" y1="327.06" x2="29.3" y2="327.06" stroke="#666" stroke-width="0.9"/>
<line x1="27.9" y1="323.44" x2="29.3" y2="323.44" stroke="#666" stroke-width="0.9"/>
<line x1="27.9" y1="319.82" x2="29.3" y2="319.82" stroke="#666" stroke-width="0.9"/>
<line x1="31.3" y1="406.7" x2="31.3" y2="408.66" stroke="#666" stroke-width="0.8"/>
<line x1="33.9" y1="406.7" x2="33.9" y2="408.41" stroke="#666" stroke-width="0.8"/>
<line x1="36.5" y1="406.7" x2="36.5" y2="409.01" stroke="#666" stroke-width="0.8"/>
<line x1="39.1" y1="406.7" x2="39.1" y2="408.35" stroke="#666" stroke-width="0.8"/>
<line x1="41.7" y1="406.7" x2="41.7" y2="408.61" stroke="#666" stroke-width="0.8"/>
<line x1="44.3" y1="406.7" x2="44.3" y2="408.41" stroke="#666" stroke-width="0.8"/>
<line x1="46.9" y1="406.7" x2="46.9" y2="408.5" stroke="#666" stroke-width="0.8"/>
<line x1="49.5" y1="406.7" x2="49.5" y2="409.17" stroke="#666" stroke-width="0.8"/>
<line x1="52.1" y1="406.7" x2="52.1" y2="408.12" stroke="#666" stroke-width="0.8"/>
<line x1="54.7" y1="406.7" x2="54.7" y2="408.53" stroke="#666" stroke-width="0.8"/>
<line x1="57.3" y1="406.7" x2="57.3" y2="408.27" stroke="#666" stroke-width="0.8"/>
<line x1="59.9" y1="406.7" x2="59.9" y2="408.42" stroke="#666" stroke-width="0.8"/>
<line x1="62.5" y1="406.7" x2="62.5" y2="409.2" stroke="#666" stroke-width="0.8"/>
<line x1="65.1" y1="406.7" x2="65.1" y2="408.4" stroke="#666" stroke-width="0.8"/>
<line x1="67.7" y1="406.7" x2="67.7" y2="408.73" stroke="#666" stroke-width="0.8"/>
<line x1="70.3" y1="406.7" x2="70.3" y2="408.5" stroke="#666" stroke-width="0.8"/>
<line x1="72.9" y1="406.7" x2="72.9" y2="408.88" stroke="#666" stroke-width="0.8"/>
<line x1="75.5" y1="406.7" x2="75.5" y2="408.54" stroke="#666" stroke-width="0.8"/>
<line x1="78.1" y1="406.7" x2="78.1" y2="408.2" stroke="#666" stroke-width="0.8"/>
<line x1="80.7" y1="406.7" x2="80.7" y2="408.52" stroke="#666" stroke-width="0.8"/>
<line x1="83.3" y1="406.7" x2="83.3" y2="408.49" stroke="#666" stroke-width="0.8"/>
<line x1="85.9" y1="406.7" x2="85.9" y2="408.95" stroke="#666" stroke-width="0.8"/>
<line x1="88.5" y1="406.7" x2="88.5" y2="408.68" stroke="#666" stroke-width="0.8"/>
<line x1="91.1" y1="406.7" x2="91.1" y2="408.24" stroke="#666" stroke-width="0.8"/>
<line x1="93.7" y1="406.7" x2="93.7" y2="408.81" stroke="#666" stroke-width="0.8"/>
<line x1="96.3" y1="406.7" x2="96.3" y2="408.36" stroke="#666" stroke-width="0.8"/>
<line x1="98.9" y1="406.7" x2="98.9" y2="408.61" stroke="#666" stroke-width="0.8"/>
<line x1="101.5" y1="406.7" x2="101.5" y2="408.26" stroke="#666" stroke-width="0.8"/>
<line x1="104.1" y1="406.7" x2="104.1" y2="408.49" stroke="#666" stroke-width="0.8"/>
<line x1="106.7" y1="406.7" x2="106.7" y2="408.94" stroke="#666" stroke-width="0.8"/>
<line x1="109.3" y1="406.7" x2="109.3" y2="408.62" stroke="#666" stroke-width="0.8"/>
<line x1="111.9" y1="406.7" x2="111.9" y2="408.9" stroke="#666" stroke-width="0.8"/>
<line x1="114.5" y1="406.7" x2="114.5" y2="408.91" stroke="#666" stroke-width="0.8"/>
<line x1="117.1" y1="406.7" x2="117.1" y2="408.7" stroke="#666" stroke-width="0.8"/>
<line x1="119.7" y1="406.7" x2="119.7" y2="408.77" stroke="#666" stroke-width="0.8"/>
<line x1="122.3" y1="406.7" x2="122.3" y2="408.48" stroke="#666" stroke-width="0.8"/>
<line x1="124.9" y1="406.7" x2="124.9" y2="408.74" stroke="#666" stroke-width="0.8"/>
<line x1="127.5" y1="406.7" x2="127.5" y2="408.93" stroke="#666" stroke-width="0.8"/>
<line x1="130.1" y1="406.7" x2="130.1" y2="408.12" stroke="#666" stroke-width="0.8"/>
<line x1="132.7" y1="406.7" x2="132.7" y2="409.13" stroke="#666" stroke-width="0.8"/>
<line x1="135.3" y1="406.7" x2="135.3" y2="408.44" stroke="#666" stroke-width="0.8"/>
<line x1="137.9" y1="406.7" x2="137.9" y2="408.17" stroke="#666" stroke-width="0.8"/>
<line x1="140.5" y1="406.7" x2="140.5" y2="408.18" stroke="#666" stroke-width="0.8"/>
<line x1="143.1" y1="406.7" x2="143.1" y2="408.41" stroke="#666" stroke-width="0.8"/>
<line x1="145.7" y1="406.7" x2="145.7" y2="408.08" stroke="#666" stroke-width="0.8"/>
<line x1="148.3" y1="406.7" x2="148.3" y2="408.48" stroke="#666" stroke-width="0.8"/>
<line x1="150.9" y1="406.7" x2="150.9" y2="408.5" stroke="#666" stroke-width="0.8"/>
<line x1="153.5" y1="406.7" x2="153.5" y2="408.79" stroke="#666" stroke-width="0.8"/>
<line x1="156.1" y1="406.7" x2="156.1" y2="408.56" stroke="#666" stroke-width="0.8"/>
<line x1="158.7" y1="406.7" x2="158.7" y2="409.12" stroke="#666" stroke-width="0.8"/>
<line x1="161.3" y1="406.7" x2="161.3" y2="408.79" stroke="#666" stroke-width="0.8"/>
<line x1="163.9" y1="406.7" x2="163.9" y2="408.39" stroke="#666" stroke-width="0.8"/>
<line x1="166.5" y1="406.7" x2="166.5" y2="409.05" stroke="#666" stroke-width="0.8"/>
<text x="43.8" y="415.6" font-size="4.2" text-anchor="middle" fill="#555" stroke="#555" stroke-width="0.15">0</text>
<text x="154.1" y="415.9" font-size="4" fill="#333" textLength="5.6" lengthAdjust="spacingAndGlyphs" stroke="#333" stroke-width="0.15">10</text>
<text x="160.9" y="413.7" font-size="3.2" fill="#333" stroke="#333" stroke-width="0.1">5</text>
<text x="27.4" y="422.7" font-size="8.3" font-weight="bold" fill="#111" textLength="48" lengthAdjust="spacingAndGlyphs" stroke="#111" stroke-width="0.3">Granzyme B</text>
<line x1="80.8" y1="419.9" x2="152.3" y2="419.9" stroke="#111" stroke-width="1.4"/>
<path d="M160.3 419.9 L148.9 414.3 L153 419.9 L148.9 425.5 Z" fill="#000"/>
<text x="139.9" y="323.9" font-size="8.6" font-weight="bold" fill="#222" textLength="13.5" lengthAdjust="spacingAndGlyphs" stroke="#222" stroke-width="0.45">Ctrl</text>
<text x="139.9" y="335.4" font-size="8.6" font-weight="bold" fill="#c8101c" textLength="19.6" lengthAdjust="spacingAndGlyphs" stroke="#c8101c" stroke-width="0.45">T cell</text>
<text x="139.9" y="346.5" font-size="8.6" font-weight="bold" fill="#1c3c8c" textLength="21.2" lengthAdjust="spacingAndGlyphs" stroke="#1c3c8c" stroke-width="0.45">eTreg</text>
<path d="M29 406.6 L41.5 406.3 L44 405 L46 403 L49 399.4 L51.7 395.4 L54.1 389.6 L55.8 383.8 L57.2 378 L58.1 372.3 L59.2 366.5 L60.5 360.8 L61.5 353 L62.3 345 L63.1 337 L63.9 330 L64.8 325 L65.7 321 L66.5 318.3 L67.2 317.2 L68 318.5 L68.8 321 L69.6 320 L70.4 323.5 L71.3 328 L72.2 333 L73 339 L73.8 346 L74.6 353 L75.4 361 L76.2 368 L77 375 L77.8 383 L78.6 390 L79.4 396 L80.3 400.5 L81.8 404 L83.8 406 L85.4 406.6" fill="none" stroke="#3c463f" stroke-width="1.5" stroke-linejoin="round"/>
<path d="M29 406.6 L41.5 406.3 L44 405 L46 403 L48.8 399.4 L51.5 395.4 L53.9 389.6 L55.6 383.8 L57 378 L57.9 372.3 L59 366.5 L60.3 360.8 L61.3 353 L62.1 345 L62.9 337 L63.7 330 L64.6 325 L65.5 321 L66.4 318.3 L67.1 317.4 L67.9 320 L68.6 324.9 L69.3 323 L69.9 325 L70.7 329 L71.8 333.4 L72.6 339 L73.4 345 L74.2 351 L75.2 358 L76 366.5 L76.8 372 L77.6 378 L78.3 384 L78.9 390 L79.6 396 L80.3 399.5 L81.6 403.5 L83.5 405.8 L85.4 406.5" fill="none" stroke="#1e2484" stroke-width="1.5" stroke-linejoin="round"/>
<path d="M29 406.6 L40 406.4 L42 405.8 L45 403.5 L48.3 399.5 L51 395.5 L53.3 389.6 L55 383.8 L56.3 378 L57.3 372.3 L58.4 366.5 L59.6 360.8 L60.7 353 L61.5 344 L62.2 336 L62.5 329 L63.5 327 L64.5 324 L65.5 320 L66.5 317.8 L67.1 317.2 L68 318 L69 319.5 L70 320.5 L70.7 321.3 L71.5 325 L72.4 329 L73.2 333.4 L73.8 339 L74.3 344 L74.9 349 L75.4 352 L76.2 355.5 L77.2 361 L78.4 365.5 L79.8 369 L80.8 374 L81.8 380 L82.5 385 L84 389.5 L85.8 393.5 L88 397.8 L90.5 401.5 L93 404 L95.9 405.8 L99 406.6" fill="none" stroke="#d8141e" stroke-width="1.5" stroke-linejoin="round"/>
<text transform="translate(9.2,382.6) rotate(-90)" font-size="6.8" font-weight="bold" fill="#111" textLength="43.5" lengthAdjust="spacingAndGlyphs" stroke="#111" stroke-width="0.3">% of Max</text>
<rect x="203" y="312.6" width="141.8" height="94.8" fill="none" stroke="#555" stroke-width="1"/>
<line x1="203" y1="312.1" x2="203" y2="407.9" stroke="#333" stroke-width="1.4"/>
<line x1="202.5" y1="407.4" x2="345.3" y2="407.4" stroke="#333" stroke-width="1.4"/>
<line x1="199.8" y1="407.4" x2="203" y2="407.4" stroke="#444" stroke-width="1"/>
<text x="197.7" y="409.3" font-size="5.4" text-anchor="end" fill="#333" textLength="4.2" lengthAdjust="spacingAndGlyphs" stroke="#333" stroke-width="0.45">0</text>
<line x1="199.8" y1="389.34" x2="203" y2="389.34" stroke="#444" stroke-width="1"/>
<text x="197.7" y="391.24" font-size="5.4" text-anchor="end" fill="#333" textLength="8.8" lengthAdjust="spacingAndGlyphs" stroke="#333" stroke-width="0.45">20</text>
<line x1="199.8" y1="371.28" x2="203" y2="371.28" stroke="#444" stroke-width="1"/>
<text x="197.7" y="373.18" font-size="5.4" text-anchor="end" fill="#333" textLength="8.8" lengthAdjust="spacingAndGlyphs" stroke="#333" stroke-width="0.45">40</text>
<line x1="199.8" y1="353.22" x2="203" y2="353.22" stroke="#444" stroke-width="1"/>
<text x="197.7" y="355.12" font-size="5.4" text-anchor="end" fill="#333" textLength="8.8" lengthAdjust="spacingAndGlyphs" stroke="#333" stroke-width="0.45">60</text>
<line x1="199.8" y1="335.16" x2="203" y2="335.16" stroke="#444" stroke-width="1"/>
<text x="197.7" y="337.06" font-size="5.4" text-anchor="end" fill="#333" textLength="8.8" lengthAdjust="spacingAndGlyphs" stroke="#333" stroke-width="0.45">80</text>
<line x1="199.8" y1="317.1" x2="203" y2="317.1" stroke="#444" stroke-width="1"/>
<text x="197.7" y="319" font-size="5.4" text-anchor="end" fill="#333" textLength="13.4" lengthAdjust="spacingAndGlyphs" stroke="#333" stroke-width="0.45">100</text>
<line x1="201.6" y1="403.79" x2="203" y2="403.79" stroke="#666" stroke-width="0.9"/>
<line x1="201.6" y1="400.18" x2="203" y2="400.18" stroke="#666" stroke-width="0.9"/>
<line x1="201.6" y1="396.56" x2="203" y2="396.56" stroke="#666" stroke-width="0.9"/>
<line x1="201.6" y1="392.95" x2="203" y2="392.95" stroke="#666" stroke-width="0.9"/>
<line x1="201.6" y1="385.73" x2="203" y2="385.73" stroke="#666" stroke-width="0.9"/>
<line x1="201.6" y1="382.12" x2="203" y2="382.12" stroke="#666" stroke-width="0.9"/>
<line x1="201.6" y1="378.5" x2="203" y2="378.5" stroke="#666" stroke-width="0.9"/>
<line x1="201.6" y1="374.89" x2="203" y2="374.89" stroke="#666" stroke-width="0.9"/>
<line x1="201.6" y1="367.67" x2="203" y2="367.67" stroke="#666" stroke-width="0.9"/>
<line x1="201.6" y1="364.06" x2="203" y2="364.06" stroke="#666" stroke-width="0.9"/>
<line x1="201.6" y1="360.44" x2="203" y2="360.44" stroke="#666" stroke-width="0.9"/>
<line x1="201.6" y1="356.83" x2="203" y2="356.83" stroke="#666" stroke-width="0.9"/>
<line x1="201.6" y1="349.61" x2="203" y2="349.61" stroke="#666" stroke-width="0.9"/>
<line x1="201.6" y1="346" x2="203" y2="346" stroke="#666" stroke-width="0.9"/>
<line x1="201.6" y1="342.38" x2="203" y2="342.38" stroke="#666" stroke-width="0.9"/>
<line x1="201.6" y1="338.77" x2="203" y2="338.77" stroke="#666" stroke-width="0.9"/>
<line x1="201.6" y1="331.55" x2="203" y2="331.55" stroke="#666" stroke-width="0.9"/>
<line x1="201.6" y1="327.94" x2="203" y2="327.94" stroke="#666" stroke-width="0.9"/>
<line x1="201.6" y1="324.32" x2="203" y2="324.32" stroke="#666" stroke-width="0.9"/>
<line x1="201.6" y1="320.71" x2="203" y2="320.71" stroke="#666" stroke-width="0.9"/>
<line x1="205" y1="407.4" x2="205" y2="408.81" stroke="#666" stroke-width="0.8"/>
<line x1="207.6" y1="407.4" x2="207.6" y2="409.71" stroke="#666" stroke-width="0.8"/>
<line x1="210.2" y1="407.4" x2="210.2" y2="409.42" stroke="#666" stroke-width="0.8"/>
<line x1="212.8" y1="407.4" x2="212.8" y2="408.96" stroke="#666" stroke-width="0.8"/>
<line x1="215.4" y1="407.4" x2="215.4" y2="409.64" stroke="#666" stroke-width="0.8"/>
<line x1="218" y1="407.4" x2="218" y2="409.41" stroke="#666" stroke-width="0.8"/>
<line x1="220.6" y1="407.4" x2="220.6" y2="409.69" stroke="#666" stroke-width="0.8"/>
<line x1="223.2" y1="407.4" x2="223.2" y2="409.43" stroke="#666" stroke-width="0.8"/>
<line x1="225.8" y1="407.4" x2="225.8" y2="409.57" stroke="#666" stroke-width="0.8"/>
<line x1="228.4" y1="407.4" x2="228.4" y2="409.63" stroke="#666" stroke-width="0.8"/>
<line x1="231" y1="407.4" x2="231" y2="409.11" stroke="#666" stroke-width="0.8"/>
<line x1="233.6" y1="407.4" x2="233.6" y2="408.82" stroke="#666" stroke-width="0.8"/>
<line x1="236.2" y1="407.4" x2="236.2" y2="409.78" stroke="#666" stroke-width="0.8"/>
<line x1="238.8" y1="407.4" x2="238.8" y2="408.84" stroke="#666" stroke-width="0.8"/>
<line x1="241.4" y1="407.4" x2="241.4" y2="409.37" stroke="#666" stroke-width="0.8"/>
<line x1="244" y1="407.4" x2="244" y2="409.89" stroke="#666" stroke-width="0.8"/>
<line x1="246.6" y1="407.4" x2="246.6" y2="409.12" stroke="#666" stroke-width="0.8"/>
<line x1="249.2" y1="407.4" x2="249.2" y2="409.01" stroke="#666" stroke-width="0.8"/>
<line x1="251.8" y1="407.4" x2="251.8" y2="409.16" stroke="#666" stroke-width="0.8"/>
<line x1="254.4" y1="407.4" x2="254.4" y2="408.94" stroke="#666" stroke-width="0.8"/>
<line x1="257" y1="407.4" x2="257" y2="409.6" stroke="#666" stroke-width="0.8"/>
<line x1="259.6" y1="407.4" x2="259.6" y2="409.06" stroke="#666" stroke-width="0.8"/>
<line x1="262.2" y1="407.4" x2="262.2" y2="408.79" stroke="#666" stroke-width="0.8"/>
<line x1="264.8" y1="407.4" x2="264.8" y2="409.41" stroke="#666" stroke-width="0.8"/>
<line x1="267.4" y1="407.4" x2="267.4" y2="409.01" stroke="#666" stroke-width="0.8"/>
<line x1="270" y1="407.4" x2="270" y2="408.91" stroke="#666" stroke-width="0.8"/>
<line x1="272.6" y1="407.4" x2="272.6" y2="408.72" stroke="#666" stroke-width="0.8"/>
<line x1="275.2" y1="407.4" x2="275.2" y2="409.71" stroke="#666" stroke-width="0.8"/>
<line x1="277.8" y1="407.4" x2="277.8" y2="409.15" stroke="#666" stroke-width="0.8"/>
<line x1="280.4" y1="407.4" x2="280.4" y2="409.42" stroke="#666" stroke-width="0.8"/>
<line x1="283" y1="407.4" x2="283" y2="409.28" stroke="#666" stroke-width="0.8"/>
<line x1="285.6" y1="407.4" x2="285.6" y2="409.74" stroke="#666" stroke-width="0.8"/>
<line x1="288.2" y1="407.4" x2="288.2" y2="408.78" stroke="#666" stroke-width="0.8"/>
<line x1="290.8" y1="407.4" x2="290.8" y2="409.46" stroke="#666" stroke-width="0.8"/>
<line x1="293.4" y1="407.4" x2="293.4" y2="409.7" stroke="#666" stroke-width="0.8"/>
<line x1="296" y1="407.4" x2="296" y2="409.04" stroke="#666" stroke-width="0.8"/>
<line x1="298.6" y1="407.4" x2="298.6" y2="409.22" stroke="#666" stroke-width="0.8"/>
<line x1="301.2" y1="407.4" x2="301.2" y2="409.1" stroke="#666" stroke-width="0.8"/>
<line x1="303.8" y1="407.4" x2="303.8" y2="409.09" stroke="#666" stroke-width="0.8"/>
<line x1="306.4" y1="407.4" x2="306.4" y2="409.83" stroke="#666" stroke-width="0.8"/>
<line x1="309" y1="407.4" x2="309" y2="408.97" stroke="#666" stroke-width="0.8"/>
<line x1="311.6" y1="407.4" x2="311.6" y2="409.59" stroke="#666" stroke-width="0.8"/>
<line x1="314.2" y1="407.4" x2="314.2" y2="408.75" stroke="#666" stroke-width="0.8"/>
<line x1="316.8" y1="407.4" x2="316.8" y2="409.64" stroke="#666" stroke-width="0.8"/>
<line x1="319.4" y1="407.4" x2="319.4" y2="408.8" stroke="#666" stroke-width="0.8"/>
<line x1="322" y1="407.4" x2="322" y2="409.65" stroke="#666" stroke-width="0.8"/>
<line x1="324.6" y1="407.4" x2="324.6" y2="408.78" stroke="#666" stroke-width="0.8"/>
<line x1="327.2" y1="407.4" x2="327.2" y2="408.96" stroke="#666" stroke-width="0.8"/>
<line x1="329.8" y1="407.4" x2="329.8" y2="409.02" stroke="#666" stroke-width="0.8"/>
<line x1="332.4" y1="407.4" x2="332.4" y2="409.04" stroke="#666" stroke-width="0.8"/>
<line x1="335" y1="407.4" x2="335" y2="409.63" stroke="#666" stroke-width="0.8"/>
<line x1="337.6" y1="407.4" x2="337.6" y2="409.31" stroke="#666" stroke-width="0.8"/>
<line x1="340.2" y1="407.4" x2="340.2" y2="408.75" stroke="#666" stroke-width="0.8"/>
<text x="217.6" y="416.3" font-size="4.2" text-anchor="middle" fill="#555" stroke="#555" stroke-width="0.15">0</text>
<text x="329.1" y="416.9" font-size="4" fill="#333" textLength="5.6" lengthAdjust="spacingAndGlyphs" stroke="#333" stroke-width="0.15">10</text>
<text x="335.9" y="414.7" font-size="3.2" fill="#333" stroke="#333" stroke-width="0.1">5</text>
<text x="209.2" y="423.1" font-size="8.3" font-weight="bold" fill="#111" textLength="31.4" lengthAdjust="spacingAndGlyphs" stroke="#111" stroke-width="0.3">Perforin</text>
<line x1="244.4" y1="420.9" x2="327.3" y2="420.9" stroke="#111" stroke-width="1.4"/>
<path d="M335.3 420.9 L323.9 415.3 L328 420.9 L323.9 426.5 Z" fill="#000"/>
<text x="313.7" y="323.5" font-size="8.6" font-weight="bold" fill="#222" textLength="13.5" lengthAdjust="spacingAndGlyphs" stroke="#222" stroke-width="0.45">Ctrl</text>
<text x="313.7" y="334.8" font-size="8.6" font-weight="bold" fill="#c8101c" textLength="19.6" lengthAdjust="spacingAndGlyphs" stroke="#c8101c" stroke-width="0.45">T cell</text>
<text x="313.7" y="344.8" font-size="8.6" font-weight="bold" fill="#1c3c8c" textLength="21.2" lengthAdjust="spacingAndGlyphs" stroke="#1c3c8c" stroke-width="0.45">eTreg</text>
<path d="M203 392 L205 389 L207 388 L209 386.5 L211.5 386.5 L213.5 385 L216.2 384.2 L218 382 L219.2 380.4 L221 379.5 L223.1 378 L224.5 374 L225.4 370.4 L226.5 366 L227.7 361.2 L229 363.5 L230 365.8 L231 362 L232.5 358 L233.5 352 L234.5 342 L235.4 337.3 L236.5 344 L237.7 351.2 L239 346 L240.8 339.6 L242.3 334 L243.8 329.6 L245 325 L246.2 320.4 L247.7 317.6 L248.5 320 L249.5 318 L250.5 322 L251.5 326 L252.8 330 L254 334 L255.2 342 L256.2 350 L257 358 L257.8 366 L258.5 374 L259.3 383 L260.8 394.6 L262.5 400.5 L263.7 403.8 L265.5 406 L267 407" fill="none" stroke="#3c463f" stroke-width="1.5" stroke-linejoin="round"/>
<path d="M203 398.8 L204.5 400 L206.9 400.8 L208.5 398.5 L210.8 396.5 L213 397.5 L216.2 397.3 L218.5 395.5 L220.8 395 L223.1 391.9 L225.4 395.8 L227 390 L228.5 385 L230.8 387.3 L232.5 381 L234.6 376.5 L236 375.5 L237.7 374.2 L239.5 369 L240.8 365 L242 360 L243 355 L244.6 346.5 L245.5 340 L246.2 335.8 L247.7 328 L249 324 L250.8 320.4 L252 318.5 L253.1 318.1 L254.2 321 L255.4 325 L256.5 329 L257.7 335.8 L258.5 343 L259.2 351.2 L260 358 L260.8 366.5 L261.3 371.5 L262.1 376 L263.1 383 L264 389 L264.8 394.6 L266.2 399.5 L267.7 403.8 L269.5 406.2 L271.1 407" fill="none" stroke="#1e2484" stroke-width="1.5" stroke-linejoin="round"/>
<path d="M203 393.5 L204.5 391 L206.2 389.6 L208 390.5 L210 388 L212 387.5 L214.6 386.5 L216.5 388 L217.7 389.6 L219.5 386 L220.8 381.9 L222.5 380 L223.8 378 L225.5 378.5 L227.7 377.3 L229.5 374 L230.8 371.9 L232.3 368 L233.8 364.2 L235.4 355 L236.9 352 L238.5 346.5 L240 343.5 L241.2 339 L242.3 335.8 L243.5 332 L244.6 329.6 L245.8 325 L246.9 321.9 L247.8 318.5 L248.6 317.5 L249.5 319.5 L250.5 318 L251.5 322 L252.7 327 L253.8 332.7 L255 340 L256.2 348 L257 356 L257.7 363.5 L258.5 372 L259.2 378.8 L260 386 L260.8 394.6 L262.2 400 L263.7 403.8 L265.5 406.2 L267 407" fill="none" stroke="#d8141e" stroke-width="1.5" stroke-linejoin="round"/>
<text transform="translate(184.5,383.4) rotate(-90)" font-size="6.8" font-weight="bold" fill="#111" textLength="43.5" lengthAdjust="spacingAndGlyphs" stroke="#111" stroke-width="0.3">% of Max</text>
<rect x="376.6" y="311.6" width="141.7" height="95.1" fill="none" stroke="#555" stroke-width="1"/>
<line x1="376.6" y1="311.1" x2="376.6" y2="407.2" stroke="#333" stroke-width="1.4"/>
<line x1="376.1" y1="406.7" x2="518.8" y2="406.7" stroke="#333" stroke-width="1.4"/>
<line x1="373.4" y1="406.7" x2="376.6" y2="406.7" stroke="#444" stroke-width="1"/>
<text x="371.2" y="408.6" font-size="5.4" text-anchor="end" fill="#333" textLength="4.2" lengthAdjust="spacingAndGlyphs" stroke="#333" stroke-width="0.45">0</text>
<line x1="373.4" y1="388.54" x2="376.6" y2="388.54" stroke="#444" stroke-width="1"/>
<text x="371.2" y="390.44" font-size="5.4" text-anchor="end" fill="#333" textLength="8.8" lengthAdjust="spacingAndGlyphs" stroke="#333" stroke-width="0.45">20</text>
<line x1="373.4" y1="370.38" x2="376.6" y2="370.38" stroke="#444" stroke-width="1"/>
<text x="371.2" y="372.28" font-size="5.4" text-anchor="end" fill="#333" textLength="8.8" lengthAdjust="spacingAndGlyphs" stroke="#333" stroke-width="0.45">40</text>
<line x1="373.4" y1="352.22" x2="376.6" y2="352.22" stroke="#444" stroke-width="1"/>
<text x="371.2" y="354.12" font-size="5.4" text-anchor="end" fill="#333" textLength="8.8" lengthAdjust="spacingAndGlyphs" stroke="#333" stroke-width="0.45">60</text>
<line x1="373.4" y1="334.06" x2="376.6" y2="334.06" stroke="#444" stroke-width="1"/>
<text x="371.2" y="335.96" font-size="5.4" text-anchor="end" fill="#333" textLength="8.8" lengthAdjust="spacingAndGlyphs" stroke="#333" stroke-width="0.45">80</text>
<line x1="373.4" y1="315.9" x2="376.6" y2="315.9" stroke="#444" stroke-width="1"/>
<text x="371.2" y="317.8" font-size="5.4" text-anchor="end" fill="#333" textLength="13.4" lengthAdjust="spacingAndGlyphs" stroke="#333" stroke-width="0.45">100</text>
<line x1="375.2" y1="403.07" x2="376.6" y2="403.07" stroke="#666" stroke-width="0.9"/>
<line x1="375.2" y1="399.44" x2="376.6" y2="399.44" stroke="#666" stroke-width="0.9"/>
<line x1="375.2" y1="395.8" x2="376.6" y2="395.8" stroke="#666" stroke-width="0.9"/>
<line x1="375.2" y1="392.17" x2="376.6" y2="392.17" stroke="#666" stroke-width="0.9"/>
<line x1="375.2" y1="384.91" x2="376.6" y2="384.91" stroke="#666" stroke-width="0.9"/>
<line x1="375.2" y1="381.28" x2="376.6" y2="381.28" stroke="#666" stroke-width="0.9"/>
<line x1="375.2" y1="377.64" x2="376.6" y2="377.64" stroke="#666" stroke-width="0.9"/>
<line x1="375.2" y1="374.01" x2="376.6" y2="374.01" stroke="#666" stroke-width="0.9"/>
<line x1="375.2" y1="366.75" x2="376.6" y2="366.75" stroke="#666" stroke-width="0.9"/>
<line x1="375.2" y1="363.12" x2="376.6" y2="363.12" stroke="#666" stroke-width="0.9"/>
<line x1="375.2" y1="359.48" x2="376.6" y2="359.48" stroke="#666" stroke-width="0.9"/>
<line x1="375.2" y1="355.85" x2="376.6" y2="355.85" stroke="#666" stroke-width="0.9"/>
<line x1="375.2" y1="348.59" x2="376.6" y2="348.59" stroke="#666" stroke-width="0.9"/>
<line x1="375.2" y1="344.96" x2="376.6" y2="344.96" stroke="#666" stroke-width="0.9"/>
<line x1="375.2" y1="341.32" x2="376.6" y2="341.32" stroke="#666" stroke-width="0.9"/>
<line x1="375.2" y1="337.69" x2="376.6" y2="337.69" stroke="#666" stroke-width="0.9"/>
<line x1="375.2" y1="330.43" x2="376.6" y2="330.43" stroke="#666" stroke-width="0.9"/>
<line x1="375.2" y1="326.8" x2="376.6" y2="326.8" stroke="#666" stroke-width="0.9"/>
<line x1="375.2" y1="323.16" x2="376.6" y2="323.16" stroke="#666" stroke-width="0.9"/>
<line x1="375.2" y1="319.53" x2="376.6" y2="319.53" stroke="#666" stroke-width="0.9"/>
<line x1="378.6" y1="406.7" x2="378.6" y2="408.81" stroke="#666" stroke-width="0.8"/>
<line x1="381.2" y1="406.7" x2="381.2" y2="408.86" stroke="#666" stroke-width="0.8"/>
<line x1="383.8" y1="406.7" x2="383.8" y2="408.57" stroke="#666" stroke-width="0.8"/>
<line x1="386.4" y1="406.7" x2="386.4" y2="408.19" stroke="#666" stroke-width="0.8"/>
<line x1="389" y1="406.7" x2="389" y2="408.63" stroke="#666" stroke-width="0.8"/>
<line x1="391.6" y1="406.7" x2="391.6" y2="408.51" stroke="#666" stroke-width="0.8"/>
<line x1="394.2" y1="406.7" x2="394.2" y2="408.22" stroke="#666" stroke-width="0.8"/>
<line x1="396.8" y1="406.7" x2="396.8" y2="408" stroke="#666" stroke-width="0.8"/>
<line x1="399.4" y1="406.7" x2="399.4" y2="408.39" stroke="#666" stroke-width="0.8"/>
<line x1="402" y1="406.7" x2="402" y2="408.36" stroke="#666" stroke-width="0.8"/>
<line x1="404.6" y1="406.7" x2="404.6" y2="408.74" stroke="#666" stroke-width="0.8"/>
<line x1="407.2" y1="406.7" x2="407.2" y2="408.9" stroke="#666" stroke-width="0.8"/>
<line x1="409.8" y1="406.7" x2="409.8" y2="408.07" stroke="#666" stroke-width="0.8"/>
<line x1="412.4" y1="406.7" x2="412.4" y2="408.54" stroke="#666" stroke-width="0.8"/>
<line x1="415" y1="406.7" x2="415" y2="408.1" stroke="#666" stroke-width="0.8"/>
<line x1="417.6" y1="406.7" x2="417.6" y2="408.6" stroke="#666" stroke-width="0.8"/>
<line x1="420.2" y1="406.7" x2="420.2" y2="408.21" stroke="#666" stroke-width="0.8"/>
<line x1="422.8" y1="406.7" x2="422.8" y2="408.96" stroke="#666" stroke-width="0.8"/>
<line x1="425.4" y1="406.7" x2="425.4" y2="408.97" stroke="#666" stroke-width="0.8"/>
<line x1="428" y1="406.7" x2="428" y2="408.22" stroke="#666" stroke-width="0.8"/>
<line x1="430.6" y1="406.7" x2="430.6" y2="408" stroke="#666" stroke-width="0.8"/>
<line x1="433.2" y1="406.7" x2="433.2" y2="408.79" stroke="#666" stroke-width="0.8"/>
<line x1="435.8" y1="406.7" x2="435.8" y2="408.92" stroke="#666" stroke-width="0.8"/>
<line x1="438.4" y1="406.7" x2="438.4" y2="408.61" stroke="#666" stroke-width="0.8"/>
<line x1="441" y1="406.7" x2="441" y2="409.06" stroke="#666" stroke-width="0.8"/>
<line x1="443.6" y1="406.7" x2="443.6" y2="408.92" stroke="#666" stroke-width="0.8"/>
<line x1="446.2" y1="406.7" x2="446.2" y2="408.8" stroke="#666" stroke-width="0.8"/>
<line x1="448.8" y1="406.7" x2="448.8" y2="408.2" stroke="#666" stroke-width="0.8"/>
<line x1="451.4" y1="406.7" x2="451.4" y2="408.82" stroke="#666" stroke-width="0.8"/>
<line x1="454" y1="406.7" x2="454" y2="408.05" stroke="#666" stroke-width="0.8"/>
<line x1="456.6" y1="406.7" x2="456.6" y2="408.52" stroke="#666" stroke-width="0.8"/>
<line x1="459.2" y1="406.7" x2="459.2" y2="409.02" stroke="#666" stroke-width="0.8"/>
<line x1="461.8" y1="406.7" x2="461.8" y2="409.01" stroke="#666" stroke-width="0.8"/>
<line x1="464.4" y1="406.7" x2="464.4" y2="408.69" stroke="#666" stroke-width="0.8"/>
<line x1="467" y1="406.7" x2="467" y2="408.61" stroke="#666" stroke-width="0.8"/>
<line x1="469.6" y1="406.7" x2="469.6" y2="408.09" stroke="#666" stroke-width="0.8"/>
<line x1="472.2" y1="406.7" x2="472.2" y2="408.73" stroke="#666" stroke-width="0.8"/>
<line x1="474.8" y1="406.7" x2="474.8" y2="408.4" stroke="#666" stroke-width="0.8"/>
<line x1="477.4" y1="406.7" x2="477.4" y2="408.36" stroke="#666" stroke-width="0.8"/>
<line x1="480" y1="406.7" x2="480" y2="408.28" stroke="#666" stroke-width="0.8"/>
<line x1="482.6" y1="406.7" x2="482.6" y2="409.05" stroke="#666" stroke-width="0.8"/>
<line x1="485.2" y1="406.7" x2="485.2" y2="408.75" stroke="#666" stroke-width="0.8"/>
<line x1="487.8" y1="406.7" x2="487.8" y2="408.2" stroke="#666" stroke-width="0.8"/>
<line x1="490.4" y1="406.7" x2="490.4" y2="408.51" stroke="#666" stroke-width="0.8"/>
<line x1="493" y1="406.7" x2="493" y2="408.48" stroke="#666" stroke-width="0.8"/>
<line x1="495.6" y1="406.7" x2="495.6" y2="409.01" stroke="#666" stroke-width="0.8"/>
<line x1="498.2" y1="406.7" x2="498.2" y2="408.23" stroke="#666" stroke-width="0.8"/>
<line x1="500.8" y1="406.7" x2="500.8" y2="408.01" stroke="#666" stroke-width="0.8"/>
<line x1="503.4" y1="406.7" x2="503.4" y2="408.62" stroke="#666" stroke-width="0.8"/>
<line x1="506" y1="406.7" x2="506" y2="408.63" stroke="#666" stroke-width="0.8"/>
<line x1="508.6" y1="406.7" x2="508.6" y2="408.72" stroke="#666" stroke-width="0.8"/>
<line x1="511.2" y1="406.7" x2="511.2" y2="408.34" stroke="#666" stroke-width="0.8"/>
<text x="391.2" y="415.6" font-size="4.2" text-anchor="middle" fill="#555" stroke="#555" stroke-width="0.15">0</text>
<text x="502" y="415.8" font-size="4" fill="#333" textLength="5.6" lengthAdjust="spacingAndGlyphs" stroke="#333" stroke-width="0.15">10</text>
<text x="508.8" y="413.6" font-size="3.2" fill="#333" stroke="#333" stroke-width="0.1">5</text>
<text x="385.8" y="421.9" font-size="8.3" font-weight="bold" fill="#111" textLength="19.6" lengthAdjust="spacingAndGlyphs" stroke="#111" stroke-width="0.3">FasL</text>
<line x1="412.3" y1="419.8" x2="500.2" y2="419.8" stroke="#111" stroke-width="1.4"/>
<path d="M508.2 419.8 L496.8 414.2 L500.9 419.8 L496.8 425.4 Z" fill="#000"/>
<text x="488.8" y="322.3" font-size="8.6" font-weight="bold" fill="#222" textLength="13.5" lengthAdjust="spacingAndGlyphs" stroke="#222" stroke-width="0.45">Ctrl</text>
<text x="488.8" y="333.3" font-size="8.6" font-weight="bold" fill="#c8101c" textLength="19.6" lengthAdjust="spacingAndGlyphs" stroke="#c8101c" stroke-width="0.45">T cell</text>
<text x="488.8" y="344.8" font-size="8.6" font-weight="bold" fill="#1c3c8c" textLength="21.2" lengthAdjust="spacingAndGlyphs" stroke="#1c3c8c" stroke-width="0.45">eTreg</text>
<path d="M377 395.8 L378.5 393.5 L380 391.9 L381.5 389.5 L383.1 388.1 L384.6 387.8 L386.2 387.3 L388.5 388.8 L390.8 386.5 L392 384 L393.1 381.9 L394.3 385 L395.4 387.3 L396.5 384 L397.7 381.2 L398.5 376 L399.2 371.9 L400.3 373.5 L401.5 375 L402.7 371 L403.8 367.3 L404.6 363 L405.4 359.6 L406.5 359 L407.5 357.5 L408.5 358.1 L410.4 355.2 L412.1 355.8 L413.8 343.1 L416.2 341.9 L417.9 338.5 L419.4 328.1 L420.8 317.1 L422.1 324.6 L423.1 332.7 L424.5 333.3 L425.6 339.6 L426.8 351.1 L428.3 352.3 L429.8 359.2 L430.8 365.8 L431.9 379.6 L433.6 390 L436.5 396.9 L438.8 402.7 L441.1 406.1 L443 406.6" fill="none" stroke="#3c463f" stroke-width="1.5" stroke-linejoin="round"/>
<path d="M377 399.6 L378.5 403.5 L380 403 L382.3 402.7 L384 403.5 L386.2 403.9 L389.2 401.2 L393.1 400.4 L396.9 401.2 L400.8 398.8 L404.6 398.8 L407.7 401.2 L410 400.4 L412.9 397.5 L415.2 396.3 L418.1 394 L419.8 394.6 L421.5 390 L423.3 383.1 L425 380.2 L426.7 372.7 L428.5 365.8 L429.4 363.8 L431.1 355.8 L433.4 344.2 L435.2 339 L436.9 338.5 L438.1 331.5 L439.8 324 L440.9 321.7 L442.1 317.1 L443.8 320 L445.6 325.8 L446.7 335 L447.9 343.1 L449.5 356 L450.3 365 L451 373 L451.8 383 L453.8 390 L455.6 399.2 L458.4 405.6 L460 406.6" fill="none" stroke="#1e2484" stroke-width="1.5" stroke-linejoin="round"/>
<path d="M377 396.5 L379.2 393.5 L382.3 391.9 L384.6 389.6 L387.7 391.9 L390.8 394.2 L393.8 390.4 L396.9 389.6 L399.2 382.7 L401.5 384.2 L404.6 378.1 L407.7 376.5 L410 370.4 L411.5 366 L413.2 362 L415 358.6 L416.7 353.5 L419 340.8 L420.8 336.1 L422.1 328.6 L423.6 325.8 L424.8 328.1 L426.5 323.5 L427.7 317.1 L429.4 327.5 L430.6 329.2 L432.3 338.5 L434 348.8 L435.2 360.4 L436.5 371.5 L438.3 383.1 L440.6 393.5 L443.4 401.5 L446.9 406.1 L449 406.6" fill="none" stroke="#d8141e" stroke-width="1.5" stroke-linejoin="round"/>
<text transform="translate(358.1,382.8) rotate(-90)" font-size="6.8" font-weight="bold" fill="#111" textLength="43.5" lengthAdjust="spacingAndGlyphs" stroke="#111" stroke-width="0.3">% of Max</text>
<text x="42.5" y="452" font-size="9" font-weight="bold" fill="#111" textLength="120.5" lengthAdjust="spacingAndGlyphs" stroke="#111" stroke-width="0.3">eTregs molecule expression</text>
<text transform="translate(15.4,537.5) rotate(-90)" font-size="7.6" fill="#222" textLength="75.5" lengthAdjust="spacingAndGlyphs" stroke="#222" stroke-width="0.3">Fold changes in MFI</text>
<line x1="30" y1="455.6" x2="30" y2="547.3" stroke="#000" stroke-width="2"/>
<line x1="27.2" y1="546.3" x2="30" y2="546.3" stroke="#000" stroke-width="1.6"/>
<text x="25" y="549.1" font-size="8.2" text-anchor="end" fill="#222" stroke="#222" stroke-width="0.3">0</text>
<line x1="27.2" y1="528.35" x2="30" y2="528.35" stroke="#000" stroke-width="1.6"/>
<text x="25" y="531.15" font-size="8.2" text-anchor="end" fill="#222" stroke="#222" stroke-width="0.3">1</text>
<line x1="27.2" y1="510.4" x2="30" y2="510.4" stroke="#000" stroke-width="1.6"/>
<text x="25" y="513.2" font-size="8.2" text-anchor="end" fill="#222" stroke="#222" stroke-width="0.3">2</text>
<line x1="27.2" y1="492.45" x2="30" y2="492.45" stroke="#000" stroke-width="1.6"/>
<text x="25" y="495.25" font-size="8.2" text-anchor="end" fill="#222" stroke="#222" stroke-width="0.3">3</text>
<line x1="27.2" y1="474.5" x2="30" y2="474.5" stroke="#000" stroke-width="1.6"/>
<text x="25" y="477.3" font-size="8.2" text-anchor="end" fill="#222" stroke="#222" stroke-width="0.3">4</text>
<line x1="27.2" y1="456.55" x2="30" y2="456.55" stroke="#000" stroke-width="1.6"/>
<text x="25" y="459.35" font-size="8.2" text-anchor="end" fill="#222" stroke="#222" stroke-width="0.3">5</text>
<line x1="29" y1="546.3" x2="167" y2="546.3" stroke="#000" stroke-width="2.3"/>
<line x1="51.9" y1="546.3" x2="51.9" y2="549.6" stroke="#000" stroke-width="1.5"/>
<line x1="97.3" y1="546.3" x2="97.3" y2="549.6" stroke="#000" stroke-width="1.5"/>
<line x1="143.1" y1="546.3" x2="143.1" y2="549.6" stroke="#000" stroke-width="1.5"/>
<rect x="36.7" y="525" width="31.4" height="4.8" fill="#000"/>
<rect x="89.5" y="512.2" width="16.6" height="8.6" fill="#000"/>
<rect x="82" y="513.5" width="31.8" height="5.7" fill="#000"/>
<rect x="83.4" y="514.7" width="29" height="1" fill="#fff"/>
<rect x="83.4" y="516.9" width="29" height="1" fill="#fff"/>
<rect x="128.45" y="466.95" width="29.6" height="9.6" rx="0.8" fill="#fff" stroke="#000" stroke-width="1.5"/>
<line x1="128.2" y1="471.2" x2="158" y2="471.2" stroke="#000" stroke-width="1.4"/>
<line x1="143.1" y1="477" x2="143.1" y2="479" stroke="#000" stroke-width="1.2"/>
<line x1="135.3" y1="479" x2="151.4" y2="479" stroke="#000" stroke-width="1.4"/>
<text x="32.9" y="557.3" font-size="8.2" fill="#222" textLength="46.1" lengthAdjust="spacingAndGlyphs" stroke="#222" stroke-width="0.3">Granzyme B</text>
<text x="85.4" y="557.3" font-size="8.2" fill="#222" textLength="28.3" lengthAdjust="spacingAndGlyphs" stroke="#222" stroke-width="0.3">Perforin</text>
<text x="135.7" y="557.3" font-size="8.2" fill="#222" textLength="18.1" lengthAdjust="spacingAndGlyphs" stroke="#222" stroke-width="0.3">FasL</text>
</svg>
</body></html>
